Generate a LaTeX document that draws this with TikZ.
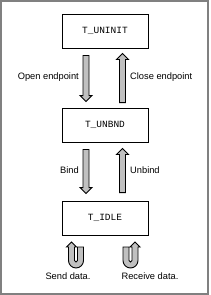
\documentclass[tikz,border=0pt]{standalone}
\usepackage{fontspec}
\setmainfont{Liberation Sans}
\setmonofont{Liberation Mono}
\usetikzlibrary{calc}
\definecolor{arrowgray}{RGB}{192,192,192}
\definecolor{framegray}{RGB}{128,128,128}
\tikzset{
  state/.style={draw=black, line width=0.9pt, minimum width=86pt, minimum height=34pt,
    inner sep=0pt, font=\ttfamily\fontsize{9.5}{10}\selectfont},
  lbl/.style={font=\fontsize{9.3}{10}\selectfont, inner sep=0pt},
  blockarrow/.style={draw=black, line width=0.9pt, fill=arrowgray, line join=miter},
  frameline/.style={draw=framegray, line width=2pt}
}
% vertical block arrows: #1 tail, #2 tip
\newcommand\blockdown[2]{%
  \path[blockarrow] let \p1=(#1), \p2=(#2) in
    (\x1-3pt,\y1) -- (\x1+3pt,\y1) -- (\x1+3pt,\y2+6pt) -- (\x1+6pt,\y2+6pt)
    -- (\x1,\y2) -- (\x1-6pt,\y2+6pt) -- (\x1-3pt,\y2+6pt) -- cycle;}
\newcommand\blockup[2]{%
  \path[blockarrow] let \p1=(#1), \p2=(#2) in
    (\x1-3pt,\y1) -- (\x1+3pt,\y1) -- (\x1+3pt,\y2-6pt) -- (\x1+6pt,\y2-6pt)
    -- (\x1,\y2) -- (\x1-6pt,\y2-6pt) -- (\x1-3pt,\y2-6pt) -- cycle;}
\begin{document}
\begin{tikzpicture}[x=1pt,y=-1pt]
\useasboundingbox (0,0) rectangle (210,295);
\draw[frameline] (1,1) rectangle (208,294);

\node[state] (uninit) at (105,31) {T\_UNINIT};
\node[state] (unbnd)  at (105,125) {T\_UNBND};
\node[state] (idle)   at (105,218) {T\_IDLE};

\coordinate (a1t) at ($(uninit.south)+(-19,7)$);
\coordinate (a1h) at ($(unbnd.north)+(-19,-6)$);
\coordinate (a2t) at ($(unbnd.north)+(17.5,-5)$);
\coordinate (a2h) at ($(uninit.south)+(17.5,5)$);
\coordinate (a3t) at ($(unbnd.south)+(-19,7)$);
\coordinate (a3h) at ($(idle.north)+(-19,-7)$);
\coordinate (a4t) at ($(idle.north)+(17.5,-8)$);
\coordinate (a4h) at ($(unbnd.south)+(17.5,6)$);

\blockdown{a1t}{a1h}
\blockup{a2t}{a2h}
\blockdown{a3t}{a3h}
\blockup{a4t}{a4h}

\node[lbl, anchor=east] (l1) at (79,77) {Open endpoint};
\node[lbl, anchor=west] (l2) at (130,77) {Close endpoint};
\node[lbl, anchor=east] (l3) at (79,170) {Bind};
\node[lbl, anchor=west] (l4) at (130,170) {Unbind};

% U-turn arrows
\path[blockarrow] (83.5,247) -- (83.5,260.5) arc[start angle=0,end angle=180,radius=7.5]
  -- (68.5,247) -- (66.5,247) -- (71.5,242) -- (76.5,247) -- (74.5,247)
  -- (74.5,260.5) arc[start angle=180,end angle=0,radius=1.5] -- (77.5,247) -- cycle;
\path[blockarrow] (123,247) -- (123,260.5) arc[start angle=180,end angle=0,radius=7.5]
  -- (138,247) -- (140,247) -- (135,242) -- (130,247) -- (132,247)
  -- (132,260.5) arc[start angle=0,end angle=180,radius=1.5] -- (129,247) -- cycle;

\node[lbl] (l5) at (68,276) {Send data.};
\node[lbl] (l6) at (150,276) {Receive data.};
\end{tikzpicture}
\end{document}
